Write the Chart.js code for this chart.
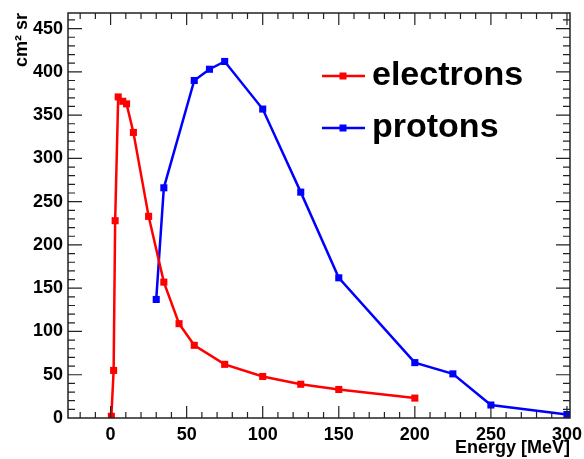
<!DOCTYPE html>
<html>
<head>
<meta charset="utf-8">
<script src="https://cdn.jsdelivr.net/npm/chart.js@4.4.0/dist/chart.umd.min.js"></script>
<style>
  html, body { margin: 0; padding: 0; background: #fff; }
  #wrap { width: 584px; height: 459px; }
</style>
</head>
<body>
<div id="wrap"><canvas id="c" width="584" height="459"></canvas></div>
<script>
// electrons: energy [MeV] vs acceptance [cm2 sr]
const electronE = [0.5, 2, 3, 5, 8, 10.5, 15, 25, 35, 45, 55, 75, 100, 125, 150, 200];
const electronA = [2, 55, 228, 371, 366, 363, 330, 233, 157, 109, 84, 62, 48, 39, 33, 23];

// protons
const protonE = [30, 35, 55, 65, 75, 100, 125, 150, 200, 225, 250, 300];
const protonA = [137, 266, 390, 403, 412, 357, 261, 162, 64, 51, 15, 4];

const xTicks = [0, 50, 100, 150, 200, 250, 300];
const yTicks = [0, 50, 100, 150, 200, 250, 300, 350, 400, 450];

const FONT = "'Liberation Sans', Arial, sans-serif";

function toPoints(xs, ys) {
    return xs.map((x, i) => ({ x: x, y: ys[i] }));
}

// ROOT-style frame with inward ticks on all sides
const framePlugin = {
    id: 'frame',
    afterDraw(chart) {
        const { ctx, chartArea: a, scales } = chart;
        const xs = scales.x, ys = scales.y;
        ctx.save();
        ctx.strokeStyle = '#222';
        ctx.lineWidth = 1.5;
        ctx.strokeRect(a.left, a.top, a.right - a.left, a.bottom - a.top);
        ctx.lineWidth = 1.2;
        ctx.beginPath();
        for (let v = -20; v <= 300; v += 10) {
            const px = xs.getPixelForValue(v);
            if (px <= a.left + 1 || px >= a.right - 1) continue;
            const major = v % 50 === 0;
            const len = major ? 12 : 6;
            ctx.moveTo(px, a.bottom);
            ctx.lineTo(px, a.bottom - len);
            ctx.moveTo(px, a.top);
            ctx.lineTo(px, a.top + len);
        }
        for (let v = 10; v <= 460; v += 10) {
            const py = ys.getPixelForValue(v);
            if (py <= a.top + 1) continue;
            const major = v % 50 === 0;
            const len = major ? 14 : 7;
            ctx.moveTo(a.left, py);
            ctx.lineTo(a.left + len, py);
            ctx.moveTo(a.right, py);
            ctx.lineTo(a.right - len, py);
        }
        ctx.stroke();
        ctx.restore();
    }
};

// legend drawn inside the plot area
const legendPlugin = {
    id: 'innerLegend',
    afterDraw(chart) {
        const { ctx } = chart;
        const rows = [{ i: 0, y: 76 }, { i: 1, y: 128 }];
        ctx.save();
        rows.forEach(r => {
            const ds = chart.data.datasets[r.i];
            ctx.strokeStyle = ds.borderColor;
            ctx.lineWidth = 2.5;
            ctx.beginPath();
            ctx.moveTo(322, r.y);
            ctx.lineTo(365, r.y);
            ctx.stroke();
            ctx.fillStyle = ds.borderColor;
            ctx.fillRect(339.5, r.y - 3.5, 7, 7);
            ctx.fillStyle = '#000';
            ctx.font = 'bold 34px ' + FONT;
            ctx.textBaseline = 'middle';
            ctx.fillText(ds.label, 372, r.y);
        });
        ctx.restore();
    }
};

const ctx = document.getElementById('c').getContext('2d');
new Chart(ctx, {
    type: 'line',
    data: {
        datasets: [
            {
                label: 'electrons',
                data: toPoints(electronE, electronA),
                borderColor: '#ff0000',
                backgroundColor: '#ff0000',
                borderWidth: 2.5,
                pointStyle: 'rect',
                pointRadius: 5,
                pointBorderWidth: 0,
                tension: 0
            },
            {
                label: 'protons',
                data: toPoints(protonE, protonA),
                borderColor: '#0000ff',
                backgroundColor: '#0000ff',
                borderWidth: 2.5,
                pointStyle: 'rect',
                pointRadius: 5,
                pointBorderWidth: 0,
                tension: 0
            }
        ]
    },
    options: {
        responsive: false,
        animation: false,
        layout: { padding: { top: 13, right: 14, left: 0, bottom: 0 } },
        plugins: {
            legend: { display: false },
            tooltip: { enabled: false }
        },
        scales: {
            x: {
                type: 'linear',
                min: -28,
                max: 302,
                grid: { display: false, drawTicks: false },
                border: { display: false },
                afterBuildTicks: s => { s.ticks = xTicks.map(v => ({ value: v })); },
                afterFit: s => { s.height = 41; s.paddingLeft = 0; s.paddingRight = 0; },
                ticks: {
                    color: '#000',
                    padding: 6,
                    maxRotation: 0,
                    autoSkip: false,
                    font: { family: FONT, size: 18, weight: 'bold' }
                },
                title: {
                    display: true,
                    text: 'Energy [MeV]',
                    align: 'end',
                    color: '#000',
                    padding: { top: 0, bottom: 0 },
                    font: { family: FONT, size: 18, weight: 'bold' }
                }
            },
            y: {
                type: 'linear',
                min: 0,
                max: 468,
                grid: { display: false, drawTicks: false },
                border: { display: false },
                afterBuildTicks: s => { s.ticks = yTicks.map(v => ({ value: v })); },
                afterFit: s => { s.width = 68; s.paddingTop = 0; s.paddingBottom = 0; },
                ticks: {
                    color: '#000',
                    padding: 5,
                    autoSkip: false,
                    font: { family: FONT, size: 18, weight: 'bold' }
                },
                title: {
                    display: true,
                    text: 'cm² sr',
                    align: 'end',
                    color: '#000',
                    padding: { top: 11, bottom: 0 },
                    font: { family: FONT, size: 18, weight: 'bold' }
                }
            }
        }
    },
    plugins: [framePlugin, legendPlugin]
});
</script>
</body>
</html>
